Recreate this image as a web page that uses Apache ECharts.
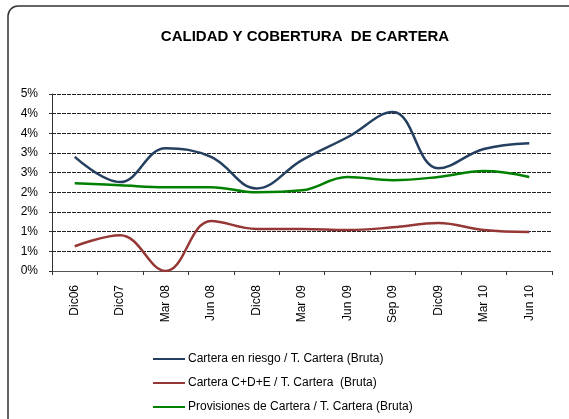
<!DOCTYPE html>
<html>
<head>
<meta charset="utf-8">
<script src="https://cdn.jsdelivr.net/npm/echarts@6/dist/echarts.min.js"></script>
<style>
  html, body { margin: 0; padding: 0; background: #fff; }
  #chart { width: 569px; height: 419px; }
</style>
</head>
<body>
<div id="chart"></div>
<script>
// data (percent)
const categories = ['Dic06', 'Dic07', 'Mar 08', 'Jun 08', 'Dic08', 'Mar 09', 'Jun 09', 'Sep 09', 'Dic09', 'Mar 10', 'Jun 10']
const riesgo = [2.90, 2.26, 3.12, 2.90, 2.10, 2.82, 3.40, 4.04, 2.61, 3.10, 3.25]
const cde = [0.63, 0.91, 0.0, 1.27, 1.07, 1.07, 1.04, 1.11, 1.22, 1.04, 0.99]
const provisiones = [2.23, 2.18, 2.13, 2.13, 2.0, 2.05, 2.39, 2.31, 2.39, 2.54, 2.39]
const seriesNames = [
  'Cartera en riesgo / T. Cartera (Bruta)',
  'Cartera C+D+E / T. Cartera  (Bruta)',
  'Provisiones de Cartera / T. Cartera (Bruta)'
]
const colors = ['#243f60', '#953735', '#008000']

const font = 'Liberation Sans, Arial, sans-serif'
const chart = echarts.init(document.getElementById('chart'))

function lineSeries(name, data, color) {
  return {
    name: name,
    type: 'line',
    data: data,
    smooth: 0.4,
    symbol: 'none',
    lineStyle: { color: color, width: 2.5 },
    itemStyle: { color: color }
  }
}

chart.setOption({
  animation: false,
  title: {
    text: 'CALIDAD Y COBERTURA  DE CARTERA',
    left: 300,
    top: 24,
    textAlign: 'center',
    textStyle: { fontFamily: font, fontSize: 15, fontWeight: 'bold', color: '#000' }
  },
  graphic: [{
    type: 'rect',
    shape: { x: 8, y: 6, width: 580, height: 430, r: 10 },
    style: { fill: 'none', stroke: '#333', lineWidth: 1.5 },
    z: -1
  }],
  legend: {
    orient: 'vertical',
    left: 153,
    top: 353,
    padding: 0,
    itemWidth: 32,
    itemHeight: 2,
    itemGap: 12,
    icon: 'rect',
    textStyle: { fontFamily: font, fontSize: 12, color: '#000', padding: [0, 0, 0, -2] },
    data: seriesNames
  },
  grid: {
    left: 52,
    right: 17,
    top: 94,
    bottom: 148
  },
  xAxis: {
    type: 'category',
    data: categories,
    boundaryGap: true,
    axisLine: { lineStyle: { color: '#555', width: 1 } },
    axisTick: { show: true, length: 4, inside: false, lineStyle: { color: '#333' } },
    axisLabel: {
      rotate: 90,
      margin: 14,
      fontFamily: font,
      fontSize: 12,
      color: '#000',
      interval: 0
    }
  },
  yAxis: {
    type: 'value',
    min: 0,
    max: 4.5,
    interval: 0.5,
    axisLine: { show: true, lineStyle: { color: '#333', width: 1 } },
    axisTick: { show: true, length: 3, lineStyle: { color: '#333' } },
    axisLabel: {
      fontFamily: font,
      fontSize: 12,
      color: '#000',
      margin: 14,
      formatter: function (v) { return Math.round(v) + '%' }
    },
    splitLine: { show: true, lineStyle: { color: '#222', type: [4, 1], width: 1 } }
  },
  series: [
    lineSeries(seriesNames[0], riesgo, colors[0]),
    lineSeries(seriesNames[1], cde, colors[1]),
    lineSeries(seriesNames[2], provisiones, colors[2])
  ]
})
</script>
</body>
</html>
